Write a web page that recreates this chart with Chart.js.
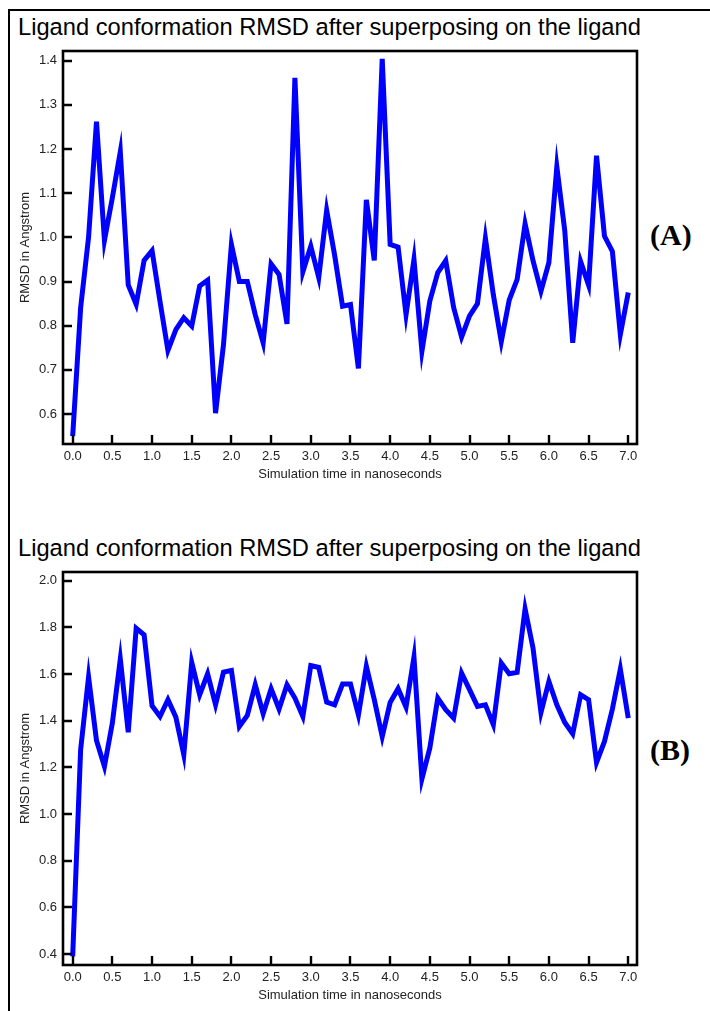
<!DOCTYPE html>
<html>
<head>
<meta charset="utf-8">
<script src="https://cdn.jsdelivr.net/npm/chart.js@4.4.1/dist/chart.umd.min.js"></script>
<style>
  html, body { margin: 0; padding: 0; background: #fff; }
  body { width: 710px; height: 1011px; position: relative; overflow: hidden; }
  #frame { position: absolute; left: 8px; top: 9px; width: 720px; height: 1020px;
           border-left: 2px solid #000; border-top: 2px solid #000; }
  .title { position: absolute; left: 18px; font-family: "Liberation Sans", Arial, sans-serif;
           font-size: 23.7px; color: #000; white-space: nowrap; line-height: 1; }
  .panel { position: absolute; left: 650px; font-family: "Liberation Serif", "Times New Roman", serif;
           font-weight: bold; font-size: 30px; color: #000; line-height: 1; }
  canvas { position: absolute; left: 0; }
</style>
</head>
<body>
<div id="frame"></div>
<div class="title" id="titleA">Ligand conformation RMSD after superposing on the ligand</div>
<div class="title" id="titleB">Ligand conformation RMSD after superposing on the ligand</div>
<div class="panel" id="panelA">(A)</div>
<div class="panel" id="panelB">(B)</div>
<canvas id="chartA" width="645" height="440" style="top:45px"></canvas>
<canvas id="chartB" width="645" height="440" style="top:566px"></canvas>
<script>
// ---- data ----
const TIME_NS = [0.0,0.1,0.2,0.3,0.4,0.5,0.6,0.7,0.8,0.9,1.0,1.1,1.2,1.3,1.4,1.5,1.6,1.7,1.8,1.9,
  2.0,2.1,2.2,2.3,2.4,2.5,2.6,2.7,2.8,2.9,3.0,3.1,3.2,3.3,3.4,3.5,3.6,3.7,3.8,3.9,
  4.0,4.1,4.2,4.3,4.4,4.5,4.6,4.7,4.8,4.9,5.0,5.1,5.2,5.3,5.4,5.5,5.6,5.7,5.8,5.9,
  6.0,6.1,6.2,6.3,6.4,6.5,6.6,6.7,6.8,6.9,7.0];

const RMSD_A = [0.55,0.84,1.00,1.262,0.993,1.09,1.194,0.892,0.848,0.948,
  0.97,0.855,0.744,0.791,0.818,0.799,0.89,0.903,0.602,0.757,
  0.984,0.90,0.90,0.825,0.761,0.94,0.916,0.804,1.361,0.922,
  0.98,0.909,1.061,0.96,0.844,0.848,0.703,1.085,0.948,1.404,
  0.984,0.978,0.825,0.95,0.742,0.856,0.92,0.947,0.841,0.774,
  0.822,0.85,0.998,0.87,0.764,0.858,0.905,1.031,0.947,0.878,
  0.943,1.16,1.015,0.761,0.945,0.892,1.185,1.003,0.968,0.78,0.875];

const RMSD_B = [0.39,1.275,1.587,1.315,1.204,1.39,1.664,1.35,1.796,1.768,
  1.464,1.418,1.49,1.415,1.254,1.65,1.511,1.601,1.468,1.608,
  1.615,1.375,1.422,1.554,1.43,1.537,1.45,1.554,1.497,1.418,
  1.636,1.628,1.48,1.468,1.557,1.557,1.425,1.633,1.49,1.332,
  1.478,1.537,1.458,1.673,1.15,1.283,1.497,1.447,1.411,1.604,
  1.533,1.461,1.468,1.383,1.647,1.601,1.607,1.879,1.711,1.435,
  1.568,1.468,1.392,1.344,1.511,1.49,1.221,1.311,1.45,1.621,1.411];

const X_TICKS = [0.0,0.5,1.0,1.5,2.0,2.5,3.0,3.5,4.0,4.5,5.0,5.5,6.0,6.5,7.0];
const Y_TICKS_A = [0.6,0.7,0.8,0.9,1.0,1.1,1.2,1.3,1.4];
const Y_TICKS_B = [0.4,0.6,0.8,1.0,1.2,1.4,1.6,1.8,2.0];

const TITLE = "Ligand conformation RMSD after superposing on the ligand";
const X_TITLE = "Simulation time in nanoseconds";
const Y_TITLE = "RMSD in Angstrom";
// -------------

document.getElementById('titleA').style.top = '16px';
document.getElementById('titleB').style.top = '537px';
document.getElementById('panelA').style.top = '220px';
document.getElementById('panelB').style.top = '735px';

const framePlugin = {
  id: 'framePlugin',
  afterDatasetsDraw(chart) {
    const ctx = chart.ctx, a = chart.chartArea;
    const xs = chart.scales.x, ys = chart.scales.y;
    ctx.save();
    ctx.strokeStyle = '#000';
    ctx.lineWidth = 2.6;
    ctx.strokeRect(a.left, a.top, a.right - a.left, a.bottom - a.top);
    ctx.lineWidth = 2.4;
    ctx.beginPath();
    xs.ticks.forEach(t => {
      const px = Math.round(xs.getPixelForValue(t.value));
      ctx.moveTo(px, a.bottom);
      ctx.lineTo(px, a.bottom - 9);
    });
    ys.ticks.forEach(t => {
      const py = Math.round(ys.getPixelForValue(t.value));
      ctx.moveTo(a.left, py);
      ctx.lineTo(a.left + 9, py);
    });
    ctx.stroke();
    ctx.restore();
  }
};

function makeChart(id, values, yTicks, yMin, yMax) {
  const pts = TIME_NS.map((t, i) => ({ x: t, y: values[i] }));
  return new Chart(document.getElementById(id), {
    type: 'line',
    data: { datasets: [{ data: pts, borderColor: '#0000FF', borderWidth: 5,
      pointRadius: 0, tension: 0, fill: false, borderJoinStyle: 'miter', borderCapStyle: 'butt' }] },
    options: {
      responsive: false, animation: false, devicePixelRatio: 1,
      layout: { padding: { top: 6, right: 8, left: 0, bottom: 0 } },
      plugins: { legend: { display: false }, tooltip: { enabled: false }, title: { display: false } },
      scales: {
        x: {
          type: 'linear', min: -0.122, max: 7.11,
          afterFit(s) { s.height = 41; s.paddingLeft = 0; s.paddingRight = 0; s.paddingTop = 0; s.paddingBottom = 0; },
          afterBuildTicks(s) { s.ticks = X_TICKS.map(v => ({ value: v })); },
          grid: { display: false, drawTicks: false },
          border: { display: false },
          ticks: { includeBounds: false, padding: 5, color: '#222',
            font: { family: '"Liberation Sans", Arial, sans-serif', size: 13 },
            callback: v => Number(v).toFixed(1), maxRotation: 0, autoSkip: false },
          title: { display: true, text: X_TITLE, color: '#222', padding: { top: 0, bottom: 3 },
            font: { family: '"Liberation Sans", Arial, sans-serif', size: 13 } }
        },
        y: {
          type: 'linear', min: yMin, max: yMax,
          afterFit(s) { s.width = 63; s.paddingTop = 0; s.paddingBottom = 0; s.paddingLeft = 0; s.paddingRight = 0; },
          afterBuildTicks(s) { s.ticks = yTicks.map(v => ({ value: v })); },
          grid: { display: false, drawTicks: false },
          border: { display: false },
          ticks: { includeBounds: false, padding: 6, color: '#222',
            font: { family: '"Liberation Sans", Arial, sans-serif', size: 13 },
            callback: v => Number(v).toFixed(1), autoSkip: false },
          title: { display: true, text: Y_TITLE, color: '#222', padding: { top: 18, bottom: 0 },
            font: { family: '"Liberation Sans", Arial, sans-serif', size: 13 } }
        }
      }
    },
    plugins: [framePlugin]
  });
}

makeChart('chartA', RMSD_A, Y_TICKS_A, 0.532, 1.422);
makeChart('chartB', RMSD_B, Y_TICKS_B, 0.353, 2.037);
</script>
</body>
</html>
